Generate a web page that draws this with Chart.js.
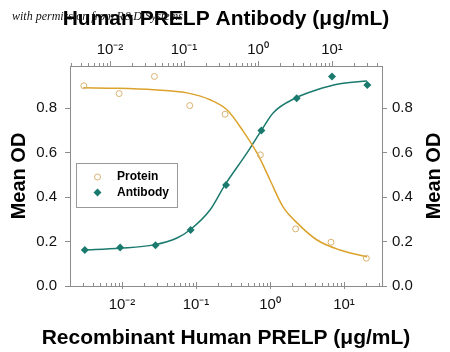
<!DOCTYPE html>
<html>
<head>
<meta charset="utf-8">
<script src="https://cdn.jsdelivr.net/npm/chart.js@4.4.1/dist/chart.umd.min.js"></script>
<style>
  html, body { margin: 0; padding: 0; background: #fff; }
</style>
</head>
<body>
<canvas id="canvas" width="450" height="352"></canvas>
<script>
// Protein on the bottom axis, antibody on the top axis (ug/mL), 3-fold dilutions
const proteinConc = [0.00305, 0.00914, 0.0274, 0.0823, 0.247, 0.741, 2.22, 6.67, 20];
const proteinOD = [0.901, 0.866, 0.943, 0.812, 0.773, 0.590, 0.257, 0.197, 0.125];
const antibodyConc = [0.00457, 0.0137, 0.0412, 0.123, 0.370, 1.11, 3.33, 10, 30];
const antibodyOD = [0.162, 0.173, 0.183, 0.252, 0.455, 0.700, 0.845, 0.943, 0.905];

// fitted curves
const proteinFitX = [0.0030, 0.0088, 0.027, 0.0755, 0.155, 0.262, 0.431, 0.689, 1.0, 1.5, 2.32, 4.32, 8.83, 20.5];
const proteinFitY = [0.892, 0.890, 0.883, 0.869, 0.838, 0.793, 0.698, 0.590, 0.477, 0.356, 0.284, 0.207, 0.162, 0.131];
const antibodyFitX = [0.0043, 0.0137, 0.0394, 0.0804, 0.12, 0.2245, 0.358, 0.71, 1.1, 1.6, 3.27, 6.26, 12.8, 29.7];
const antibodyFitY = [0.162, 0.170, 0.185, 0.216, 0.252, 0.342, 0.455, 0.599, 0.698, 0.779, 0.847, 0.883, 0.910, 0.923];

const yTicks = [0, 0.2, 0.4, 0.6, 0.8];
const supers = { '-': '⁻', '0': '⁰', '1': '¹', '2': '²', '3': '³' };

const FONT = "'Liberation Sans', Arial, sans-serif";
const axisColor = '#8c8c8c';
const proteinColor = '#dba22c';
const proteinMarker = '#d8b272';
const antibodyColor = '#1b7a6e';

const pts = (xs, ys) => xs.map((x, i) => ({ x, y: ys[i] }));
const isDecade = v => Math.abs(Math.log10(v) - Math.round(Math.log10(v))) < 1e-6;
const decadeLabel = v => '10' + String(Math.round(Math.log10(v))).split('').map(c => supers[c]).join('');

function logTicks(scale) {
  const ticks = [];
  const lo = Math.floor(Math.log10(scale.min));
  const hi = Math.ceil(Math.log10(scale.max));
  for (let e = lo; e <= hi; e++) {
    for (let m = 1; m < 10; m++) {
      const v = m * Math.pow(10, e);
      if (v >= scale.min && v <= scale.max) ticks.push({ value: v });
    }
  }
  scale.ticks = ticks;
}

const extras = {
  id: 'extras',
  afterDraw(chart) {
    const ctx = chart.ctx;
    const area = chart.chartArea;
    const midX = (area.left + area.right) / 2;
    ctx.save();
    // log axis tick marks
    ctx.strokeStyle = axisColor;
    ctx.lineWidth = 1;
    ['x', 'x2'].forEach(id => {
      const s = chart.scales[id];
      s.ticks.forEach(t => {
        const px = Math.round(s.getPixelForValue(t.value)) + 0.5;
        const big = isDecade(t.value);
        ctx.beginPath();
        if (id === 'x2') {
          ctx.moveTo(px, s.bottom);
          ctx.lineTo(px, s.bottom - (big ? 5 : 3));
        } else {
          ctx.moveTo(px, s.top + (big ? 3 : 0));
          ctx.lineTo(px, s.top - (big ? 4 : 3));
        }
        ctx.stroke();
      });
    });

    // axis titles (drawn here so they are not squeezed to the axis width)
    ctx.fillStyle = '#000';
    ctx.textAlign = 'center';
    ctx.textBaseline = 'middle';
    ctx.font = 'bold 21px ' + FONT;
    ctx.fillText('Human PRELP Antibody (μg/mL)', midX, 19);
    ctx.fillText('Recombinant Human PRELP (μg/mL)', midX, 338);

    // right axis title reads bottom to top like the left one
    ctx.font = 'bold 20px ' + FONT;
    ctx.translate(434, (area.top + area.bottom) / 2);
    ctx.rotate(-Math.PI / 2);
    ctx.fillText('Mean OD', 0, 0);
    ctx.setTransform(1, 0, 0, 1, 0, 0);

    // legend box
    ctx.fillStyle = '#fff';
    ctx.fillRect(77, 164, 100, 43);
    ctx.strokeStyle = '#999';
    ctx.strokeRect(76.5, 163.5, 101, 44);
    const ds = chart.data.datasets;
    ctx.font = 'bold 12px ' + FONT;
    ctx.textAlign = 'left';
    ctx.fillStyle = '#000';
    ctx.fillText(ds[0].label, 117, 177);
    ctx.fillText(ds[1].label, 117, 192.5);
    ctx.beginPath();
    ctx.arc(97.5, 177, 3, 0, Math.PI * 2);
    ctx.strokeStyle = ds[0].borderColor;
    ctx.stroke();
    ctx.beginPath();
    ctx.moveTo(97.5, 188.5); ctx.lineTo(101.5, 192.5); ctx.lineTo(97.5, 196.5); ctx.lineTo(93.5, 192.5);
    ctx.closePath();
    ctx.fillStyle = ds[1].backgroundColor;
    ctx.fill();

    // watermark
    ctx.fillStyle = '#111';
    ctx.font = "italic 12px 'Liberation Serif', 'Times New Roman', serif";
    ctx.textBaseline = 'alphabetic';
    ctx.fillText('with permission from R&D Systems', 12, 20);
    ctx.restore();
  }
};

const tickFont = { family: FONT, size: 15 };

new Chart(document.getElementById('canvas'), {
  type: 'scatter',
  data: {
    datasets: [
      {
        label: 'Protein', data: pts(proteinConc, proteinOD), xAxisID: 'x', yAxisID: 'y',
        pointStyle: 'circle', pointRadius: 3, borderWidth: 1,
        borderColor: proteinMarker, backgroundColor: 'rgba(255,255,255,0)'
      },
      {
        label: 'Antibody', data: pts(antibodyConc, antibodyOD), xAxisID: 'x2', yAxisID: 'y',
        pointStyle: 'rectRot', pointRadius: 4, borderWidth: 0,
        borderColor: antibodyColor, backgroundColor: antibodyColor
      },
      {
        label: 'Protein fit', data: pts(proteinFitX, proteinFitY), xAxisID: 'x', yAxisID: 'y',
        showLine: true, pointRadius: 0, borderWidth: 1.5, borderColor: proteinColor,
        cubicInterpolationMode: 'monotone'
      },
      {
        label: 'Antibody fit', data: pts(antibodyFitX, antibodyFitY), xAxisID: 'x2', yAxisID: 'y',
        showLine: true, pointRadius: 0, borderWidth: 1.5, borderColor: antibodyColor,
        cubicInterpolationMode: 'monotone'
      }
    ]
  },
  options: {
    responsive: false,
    animation: false,
    devicePixelRatio: 1,
    layout: { padding: 0 },
    plugins: { legend: { display: false }, tooltip: { enabled: false } },
    scales: {
      x: {
        type: 'logarithmic', position: 'bottom', min: 0.001982, max: 32.6,
        afterFit: s => { s.height = 66; },
        afterBuildTicks: logTicks,
        grid: { display: false, drawTicks: false },
        border: { color: axisColor },
        ticks: {
          autoSkip: false, maxRotation: 0, padding: 10, color: '#111', font: tickFont,
          callback: v => isDecade(v) ? decadeLabel(v) : ''
        }
      },
      x2: {
        type: 'logarithmic', position: 'top', min: 0.00288, max: 47.4,
        afterFit: s => { s.height = 66; },
        afterBuildTicks: logTicks,
        grid: { display: false, drawTicks: false },
        border: { color: axisColor },
        ticks: {
          autoSkip: false, maxRotation: 0, padding: 7, color: '#111', font: tickFont,
          callback: v => isDecade(v) ? decadeLabel(v) : ''
        }
      },
      y: {
        position: 'left', min: 0, max: 0.99,
        afterFit: s => { s.width = 70; },
        afterBuildTicks: s => { s.ticks = yTicks.map(v => ({ value: v })); },
        grid: { drawOnChartArea: false, tickLength: 5, color: axisColor },
        border: { color: axisColor },
        ticks: { padding: 8, color: '#111', font: tickFont, callback: v => v.toFixed(1) },
        title: {
          display: true, text: 'Mean OD', color: '#000',
          font: { family: FONT, size: 20, weight: 'bold' }, padding: { top: 7, bottom: 0 }
        }
      },
      y2: {
        position: 'right', min: 0, max: 0.99,
        afterFit: s => { s.width = 68; },
        afterBuildTicks: s => { s.ticks = yTicks.map(v => ({ value: v })); },
        grid: { drawOnChartArea: false, tickLength: 5, color: axisColor },
        border: { color: axisColor },
        ticks: { padding: 5, color: '#111', font: tickFont, callback: v => v.toFixed(1) }
      }
    }
  },
  plugins: [extras]
});
</script>
</body>
</html>
